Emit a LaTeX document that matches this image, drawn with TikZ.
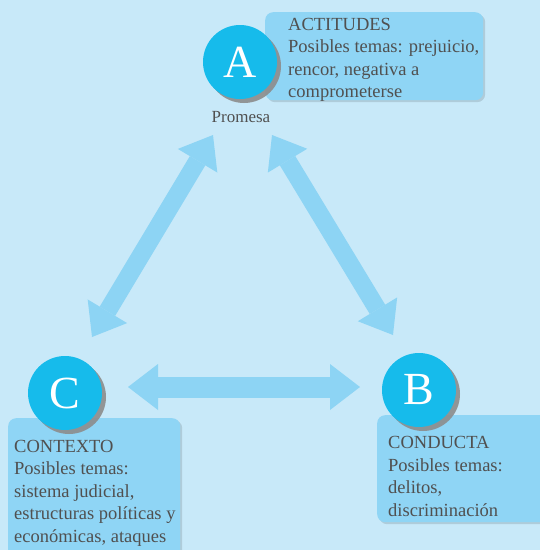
\documentclass[tikz,border=0pt]{standalone}
\usepackage{fontspec}
\setmainfont{Liberation Serif}
\usetikzlibrary{arrows.meta,shadows}
\definecolor{bg}{HTML}{C8E9F9}
\definecolor{circ}{HTML}{16BBEB}
\definecolor{boxc}{HTML}{8FD5F5}
\definecolor{arrc}{HTML}{8DD4F4}
\definecolor{txt}{HTML}{505050}
\tikzset{
  letter/.style={circle, minimum size=74pt, inner sep=0pt, fill=circ, text=white,
    font=\fontsize{46}{46}\selectfont,
    drop shadow={shadow xshift=4pt, shadow yshift=-4pt, fill=black!45, opacity=0.9}},
  infobox/.style={rounded corners=8pt, fill=boxc, anchor=north west, inner sep=0pt,
    drop shadow={shadow xshift=2pt, shadow yshift=-2pt, fill=black, opacity=0.12}},
  infotext/.style={anchor=base west, align=left, inner sep=0pt, text=txt,
    font=\fontsize{18.5}{22.5}\selectfont},
  arr/.style={draw=arrc, line width=21pt,
    {Triangle[width=46pt,length=30pt,line width=0pt]}-{Triangle[width=46pt,length=30pt,line width=0pt]}},
  diagarr/.style={arr, line width=18pt}
}
\begin{document}
\begin{tikzpicture}[x=1pt,y=-1pt]
\fill[bg] (0,0) rectangle (540,550);
\useasboundingbox (0,0) rectangle (540,550);
% boxes
\node[infobox, minimum width=218pt, minimum height=88pt] (boxA) at (265,12) {};
\node[infobox, minimum width=175pt, minimum height=107pt] (boxB) at (377,415) {};
\node[infobox, minimum width=172pt, minimum height=140pt] (boxC) at (8,418) {};
% texts (anchor = baseline of last line)
\node[infotext] (tA) at (288,97.5) {ACTITUDES\\Posibles temas: prejuicio,\\rencor, negativa a\\comprometerse};
\node[infotext] (tB) at (388,516) {CONDUCTA\\Posibles temas:\\delitos,\\discriminación};
\node[infotext] (tC) at (14,542) {CONTEXTO\\Posibles temas:\\sistema judicial,\\estructuras políticas y\\económicas, ataques};
% circles
\node[letter] (A) at (240,62) {A};
\node[letter] (B) at (419,390) {B};
\node[letter] (C) at (65,393) {C};
\node[text=txt, font=\fontsize{17}{17}\selectfont, anchor=base, inner sep=0pt] (prom) at (241,122) {Promesa};
% arrow end points
\coordinate (a1) at (213,135);
\coordinate (c1) at (92,337);
\coordinate (a2) at (272,135);
\coordinate (b1) at (393,335);
\coordinate (c2) at (128,387);
\coordinate (b2) at (360,387);
\draw[diagarr] (c1) -- (a1);
\draw[diagarr] (a2) -- (b1);
\draw[arr] (c2) -- (b2);
\end{tikzpicture}
\end{document}
